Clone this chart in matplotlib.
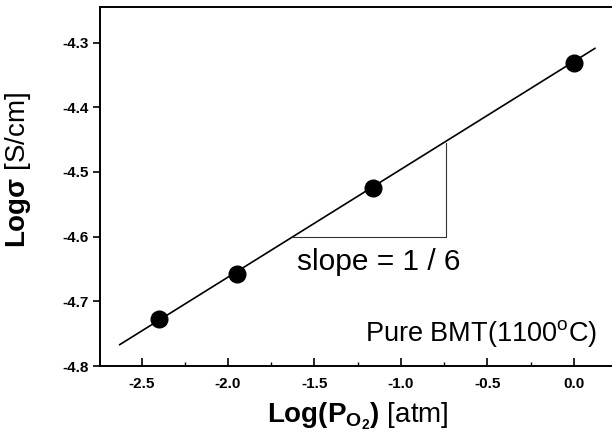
import numpy as np
import matplotlib
matplotlib.use('Agg')
import matplotlib.pyplot as plt
from matplotlib.ticker import MultipleLocator

plt.rcParams['font.family'] = ['Liberation Sans', 'DejaVu Sans']
plt.rcParams['mathtext.fontset'] = 'custom'
plt.rcParams['mathtext.rm'] = 'Liberation Sans'
plt.rcParams['mathtext.bf'] = 'Liberation Sans:bold'
plt.rcParams['mathtext.it'] = 'Liberation Sans:italic'

# measured points
log_po2 = [-2.4, -1.95, -1.16, 0.0]
log_sigma = [-4.727, -4.658, -4.525, -4.331]

# fitted line ends
fit_x = [-2.626, 0.121]
fit_y = [-4.767, -4.309]

# slope triangle corners
tri_x = [-1.624, -0.739, -0.739]
tri_y = [-4.601, -4.601, -4.456]

xticks = [-2.5, -2.0, -1.5, -1.0, -0.5, 0.0]
yticks = [-4.8, -4.7, -4.6, -4.5, -4.4, -4.3]

fig = plt.figure(figsize=(6.12, 4.4), dpi=100)
ax = fig.add_axes([100 / 612, 1 - 366 / 440, 1 - 100 / 612, 359 / 440])

ax.plot(fit_x, fit_y, color='black', lw=1.2)
ax.plot(tri_x, tri_y, color='#333333', lw=0.8)
ax.plot(log_po2, log_sigma, 'o', color='black', ms=12)

ax.text(-1.60, -4.639, 'slope = 1 / 6', fontsize=21.5, ha='left', va='center')
ax.text(0.133, -4.750, 'Pure BMT(1100$^{\\rm o}$C)', fontsize=19.5, ha='right', va='center')

ax.set_xlim(-2.74, 0.22)
ax.set_ylim(-4.8, -4.245)
ax.set_xticks(xticks)
ax.set_xticklabels(['%.1f' % v for v in xticks])
ax.set_yticks(yticks)
ax.set_yticklabels(['%.1f' % v for v in yticks])
ax.xaxis.set_minor_locator(MultipleLocator(0.25))

for lab in ax.get_xticklabels() + ax.get_yticklabels():
    lab.set_fontweight('bold')
    lab.set_fontsize(11)

ax.tick_params(axis='x', which='major', direction='in', length=6, width=1.2, pad=8)
ax.tick_params(axis='x', which='minor', direction='in', length=3, width=1.0)
ax.tick_params(axis='y', which='major', direction='out', length=5, width=1.2, pad=3)

ax.spines['right'].set_visible(False)
for s in ['left', 'top', 'bottom']:
    ax.spines[s].set_linewidth(1.4)

ax.set_xlabel(r'$\mathbf{Log(P_{O_2})}$ [atm]', fontsize=20)
ax.xaxis.set_label_coords(0.504, -0.095)
ax.set_ylabel(r'$\mathbf{Log\sigma}$ [S/cm]', fontsize=20)
ax.yaxis.set_label_coords(-0.131, 0.546)

fig.savefig('out.png', dpi=100)
